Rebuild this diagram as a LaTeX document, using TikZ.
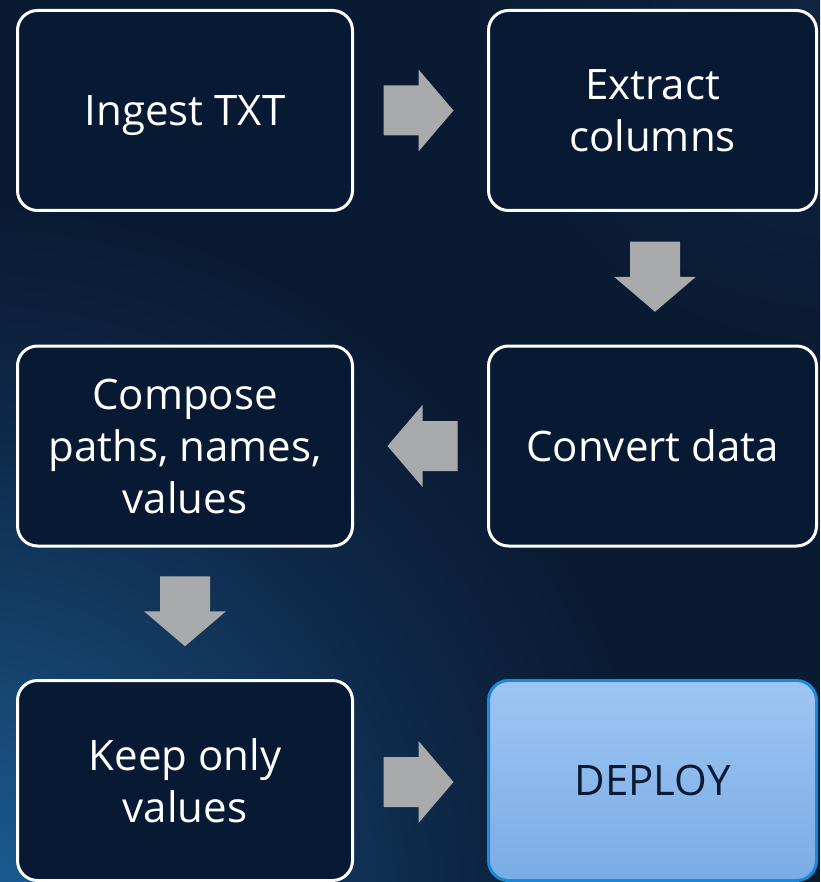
\documentclass[tikz,border=0pt]{standalone}
\usepackage{fontspec}
\setmainfont{Open Sans}
\usetikzlibrary{calc}
\definecolor{bg}{HTML}{0A1A32}
\definecolor{glowc}{HTML}{1C5E96}
\definecolor{glowm}{HTML}{15446F}
\definecolor{glowo}{HTML}{0E2848}
\definecolor{glowtr}{HTML}{0F2543}
\definecolor{boxfill}{HTML}{081A33}
\definecolor{arr}{HTML}{A9AAAC}
\definecolor{dtop}{HTML}{9FC5F3}
\definecolor{dbot}{HTML}{79ACE5}
\definecolor{dborder}{HTML}{1A8AD4}
\definecolor{dtext}{HTML}{0A1A33}
\pgfdeclareradialshading{glowshade}{\pgfpoint{0bp}{0bp}}{color(0bp)=(glowc); color(8bp)=(glowm); color(17bp)=(glowo); color(25bp)=(bg); color(50bp)=(bg)}
\pgfdeclareradialshading{glowtrshade}{\pgfpoint{0bp}{0bp}}{color(0bp)=(glowtr); color(25bp)=(bg); color(50bp)=(bg)}
\tikzset{
  box/.style={draw=white, line width=3pt, rounded corners=20pt, fill=boxfill,
    text=white, align=center, inner sep=0pt,
    minimum height=200pt, font=\fontsize{42}{52}\selectfont},
  lbox/.style={box, minimum width=335pt},
  rbox/.style={box, minimum width=328pt},
  deploybox/.style={rbox, draw=dborder, top color=dtop, bottom color=dbot, text=dtext},
  blockarrow/.pic={\fill[arr] (-35,-25) -- (0,-25) -- (0,-41) -- (35,0) -- (0,41) -- (0,25) -- (-35,25) -- cycle;}
}
\begin{document}
\begin{tikzpicture}[x=1pt,y=-1pt]
\useasboundingbox (0,0) rectangle (820,882);
\fill[bg] (0,0) rectangle (820,882);
\begin{scope}
\clip (0,0) rectangle (820,882);
\shade[shading=glowshade] (-40,900) circle [radius=700pt];
\shade[shading=glowtrshade] (840,-20) circle [radius=380pt];
\end{scope}

\node[lbox, text depth=0pt] (ingest)  at (185,110.5) {Ingest TXT};
\node[rbox] (extract) at (652.5,110.5) {Extract\\columns};
\node[rbox] (convert) at (652.5,446) {Convert data};
\node[lbox] (compose) at (185,446) {Compose\\paths, names,\\values};
\node[lbox] (keep)    at (185,780.5) {Keep only\\values};
\node[deploybox] (deploy) at (652.5,780.5) {DEPLOY};

\pic at ($(ingest.east)!0.5!(extract.west)+(-2,0)$) {blockarrow};
\pic[rotate=-90] at ($(extract.south)!0.5!(convert.north)+(2.5,-1.5)$) {blockarrow};
\pic[rotate=180] at ($(convert.west)!0.5!(compose.east)+(2,0)$) {blockarrow};
\pic[rotate=-90] at ($(compose.south)!0.5!(keep.north)+(0,-2)$) {blockarrow};
\pic at ($(keep.east)!0.5!(deploy.west)+(-2,1.5)$) {blockarrow};
\end{tikzpicture}
\end{document}
